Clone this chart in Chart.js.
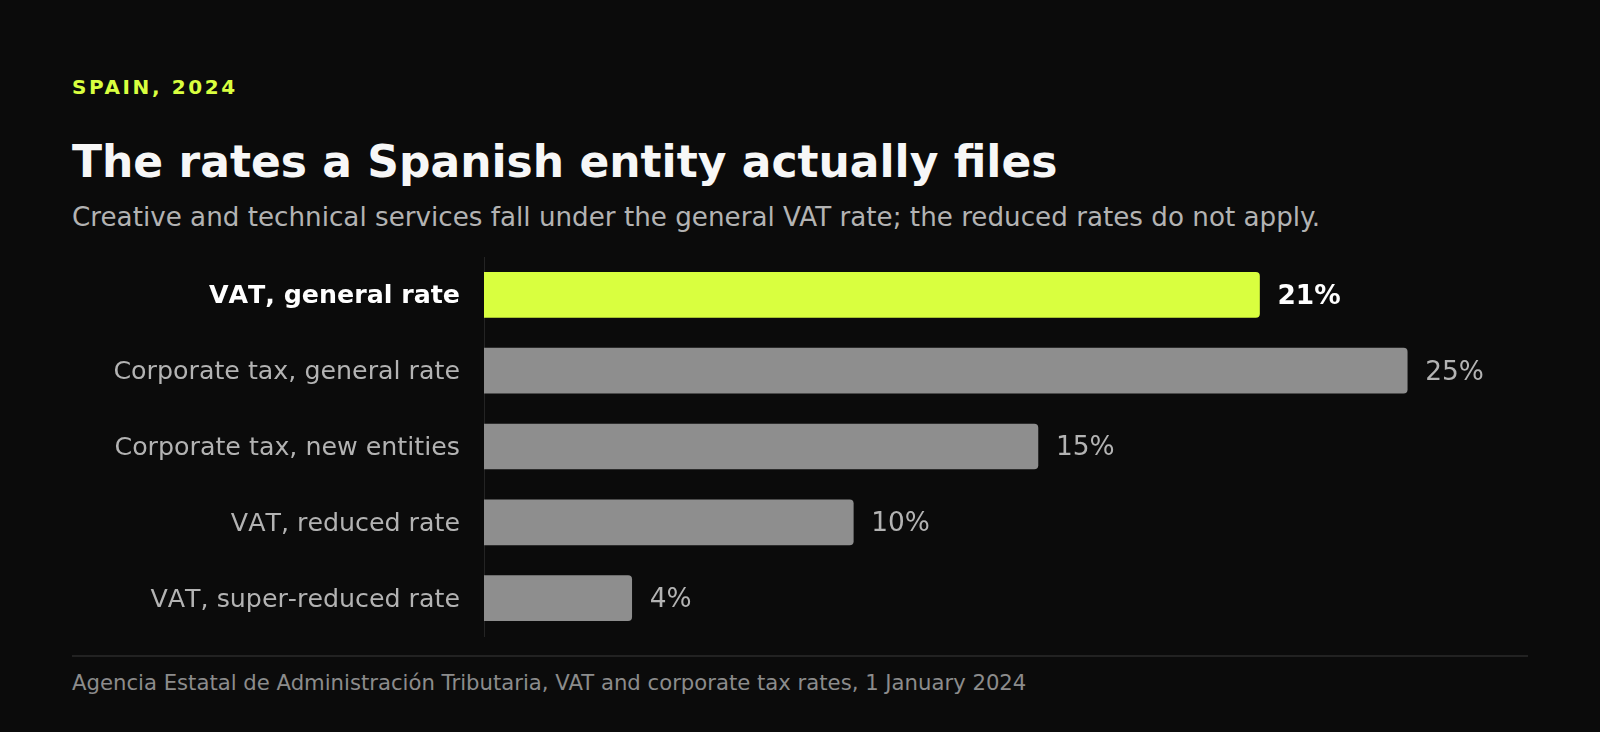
<!DOCTYPE html>
<html>
<head>
<meta charset="utf-8">
<script src="https://cdn.jsdelivr.net/npm/chart.js@4.4.1/dist/chart.umd.min.js"></script>
<style>
  html, body { margin: 0; padding: 0; background: #0b0b0b; }
  body { width: 1600px; height: 732px; position: relative; overflow: hidden; font-family: "DejaVu Sans", sans-serif; }
  .t { position: absolute; left: 72px; line-height: 1; white-space: nowrap; }
  #eyebrow { top: 77px; font-size: 20px; font-weight: bold; letter-spacing: 2.6px; color: #d9ff3f; }
  #title { top: 140px; font-size: 44px; font-weight: bold; color: #f7f7f7; }
  #subtitle { top: 204px; font-size: 26.2px; color: #b3b3b3; }
  #rule { position: absolute; left: 72px; top: 655px; width: 1456px; height: 0; border-top: 2px solid #222222; }
  #footer { top: 672px; font-size: 21.2px; color: #8c8c8c; }
  #wrap { position: absolute; left: 72px; top: 250px; width: 1456px; height: 396px; }
</style>
</head>
<body>
<div class="t" id="eyebrow">SPAIN, 2024</div>
<div class="t" id="title">The rates a Spanish entity actually files</div>
<div class="t" id="subtitle">Creative and technical services fall under the general VAT rate; the reduced rates do not apply.</div>
<div id="wrap"><canvas id="c"></canvas></div>
<div id="rule"></div>
<div class="t" id="footer">Agencia Estatal de Administración Tributaria, VAT and corporate tax rates, 1 January 2024</div>
<script>
const categories = ["VAT, general rate", "Corporate tax, general rate", "Corporate tax, new entities", "VAT, reduced rate", "VAT, super-reduced rate"];
const rates = [21, 25, 15, 10, 4];
const highlightIndex = 0;

const LIME = "#d9ff3f";
const GREY_BAR = "#8e8e8e";
const GREY_TEXT = "#b3b3b3";

const noKerning = {
  id: "noKerning",
  beforeDraw(chart) { chart.ctx.fontKerning = "none"; }
};

const valueLabels = {
  id: "valueLabels",
  afterDatasetsDraw(chart) {
    const ctx = chart.ctx;
    const meta = chart.getDatasetMeta(0);
    ctx.save();
    ctx.textBaseline = "middle";
    ctx.textAlign = "left";
    meta.data.forEach((bar, i) => {
      const hi = i === highlightIndex;
      ctx.font = (hi ? "bold " : "") + "26.4px 'DejaVu Sans'";
      ctx.fillStyle = hi ? "#ffffff" : GREY_TEXT;
      ctx.fillText(rates[i] + "%", bar.x + 18, bar.y + 2);
    });
    ctx.restore();
  }
};

new Chart(document.getElementById("c"), {
  type: "bar",
  data: {
    labels: categories,
    datasets: [{
      data: rates,
      backgroundColor: rates.map((_, i) => i === highlightIndex ? LIME : GREY_BAR),
      borderRadius: 4,
      borderSkipped: "start",
      barThickness: 45
    }]
  },
  options: {
    indexAxis: "y",
    responsive: true,
    maintainAspectRatio: false,
    animation: false,
    layout: { padding: { top: 7, bottom: 10, right: 10, left: 0 } },
    plugins: { legend: { display: false }, tooltip: { enabled: false } },
    scales: {
      x: { display: false, min: 0, max: 28 },
      y: {
        afterFit(scale) { scale.width = 412; scale.paddingTop = 0; scale.paddingBottom = 0; },
        grid: { display: true, color: "rgba(0,0,0,0)", drawTicks: false },
        border: { display: true, color: "#242424", width: 1 },
        ticks: {
          padding: 24,
          labelOffset: 2,
          color: (c) => c.index === highlightIndex ? "#ffffff" : GREY_TEXT,
          font: (c) => ({ family: "DejaVu Sans", size: 25.3, weight: c.index === highlightIndex ? "bold" : "normal" })
        }
      }
    }
  },
  plugins: [noKerning, valueLabels]
});
</script>
</body>
</html>
